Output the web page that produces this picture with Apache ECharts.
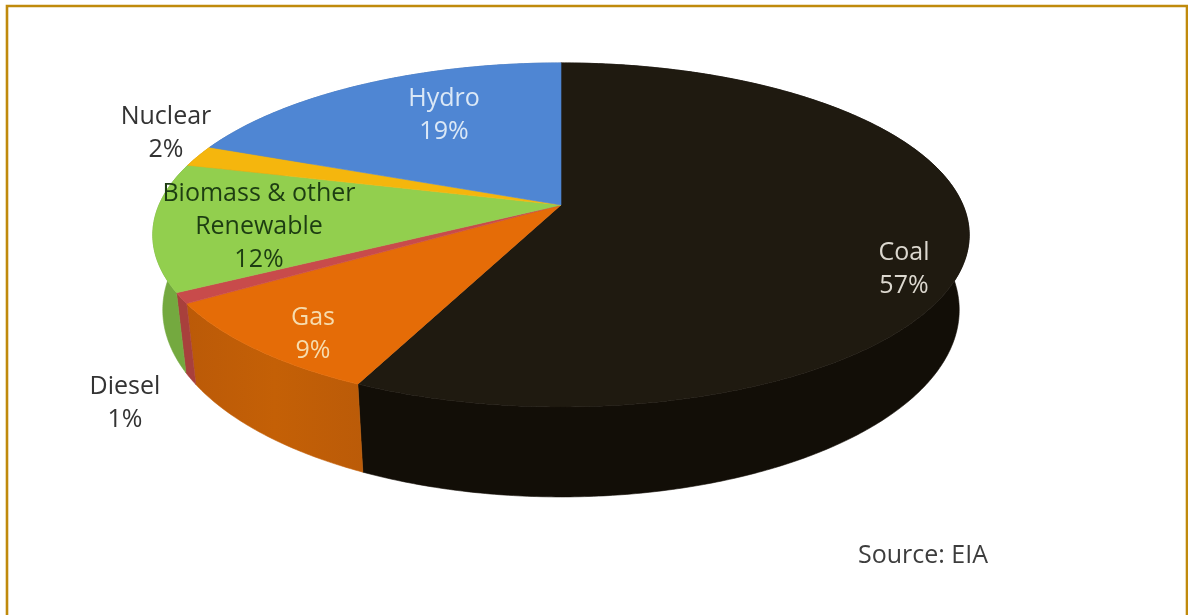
<!DOCTYPE html>
<html>
<head>
<meta charset="utf-8">
<style>html,body{margin:0;padding:0;background:#fff}#c{width:1188px;height:615px}</style>
<script src="https://cdn.jsdelivr.net/npm/echarts@6/dist/echarts.min.js"></script>
</head>
<body>
<div id="c"></div>
<script>
// Data, clockwise from 12 o'clock
const names = ['Coal', 'Gas', 'Diesel', 'Biomass & other\nRenewable', 'Nuclear', 'Hydro'];
const shares = [57, 9, 1, 12, 2, 19];
const sourceNote = 'Source: EIA';

// Styles
const topColors = ['#1f1a10', '#e56c07', '#c84b4b', '#92cf4e', '#f5b60d', '#4f86d3'];
const sideColors = ['#120e07', '#c25f08', '#a8403c', '#74a93f', '#c8940a', '#3f6cab'];
const labelColors = ['#dcd8cf', '#f6dcae', '#333333', '#1d3d12', '#333333', '#dbe8f6'];
const labelFont = '400 25px "Open Sans"';

// Layout: label centres and the perspective of the tilted disc
const labelCentres = [[904, 269], [313, 334], [125, 403], [259, 227], [166, 133], [444, 115]];
const view = {cx: 561, cy: 205, k: 402, a: 166.8, c: -0.174,
              rimCy: 235, baseCy: 310, rimRx: 408, baseRx: 398, yStretch: 187 / 172};

function rim(theta) {
  const u = Math.sin(theta), v = -Math.cos(theta), d = 1 + view.c * v;
  return [view.cx + view.k * u / d, view.cy + view.a * v / d];
}
function base(p) {
  return [view.cx + (p[0] - view.cx) * view.baseRx / view.rimRx,
          view.baseCy + (p[1] - view.rimCy) * view.yStretch];
}
const total = shares.reduce((s, v) => s + v, 0);
function sliceArc(i) {
  let before = 0;
  for (let j = 0; j < i; j++) before += shares[j];
  const a0 = before / total * 2 * Math.PI, a1 = (before + shares[i]) / total * 2 * Math.PI;
  const n = Math.max(4, Math.ceil((a1 - a0) / 0.01)), pts = [];
  for (let k = 0; k <= n; k++) pts.push(rim(a0 + (a1 - a0) * k / n));
  return pts;
}
const seriesData = shares.map((v, i) => [v, i]);

function renderSide(params, api) {
  const i = api.value(1), top = sliceArc(i);
  const pts = top.concat(top.map(base).reverse());
  let fill = sideColors[i];
  if (i === 1) {
    fill = new echarts.graphic.LinearGradient(0, 0, 1, 0, [
      {offset: 0, color: '#bb5a08'}, {offset: 0.5, color: '#c46006'}, {offset: 1, color: '#bb5b08'}]);
  }
  return {type: 'polygon', shape: {points: pts},
          style: {fill: fill, stroke: sideColors[i], lineWidth: 0.6}};
}
function renderTop(params, api) {
  const i = api.value(1);
  const pts = [[view.cx, view.cy]].concat(sliceArc(i));
  return {type: 'polygon', shape: {points: pts},
          style: {fill: topColors[i], stroke: topColors[i], lineWidth: 0.6}};
}
function renderLabel(params, api) {
  const i = api.value(1);
  return {type: 'text', x: labelCentres[i][0], y: labelCentres[i][1],
          style: {text: names[i] + '\n' + api.value(0) + '%', fill: labelColors[i],
                  font: labelFont, lineHeight: 33, align: 'center', verticalAlign: 'middle'}};
}

const chart = echarts.init(document.getElementById('c'), null, {renderer: 'canvas'});
chart.setOption({
  animation: false,
  backgroundColor: '#ffffff',
  graphic: [
    {type: 'rect', z: 0, shape: {x: 7, y: 6, width: 1180, height: 720},
     style: {fill: 'transparent', stroke: '#c08a0c', lineWidth: 2.6}},
    {type: 'text', z: 10, x: 858, y: 556,
     style: {text: sourceNote, fill: '#3d3d3d', font: labelFont, verticalAlign: 'middle'}}
  ],
  series: [
    {type: 'custom', coordinateSystem: 'none', silent: true, z: 2, data: seriesData, renderItem: renderSide},
    {type: 'custom', coordinateSystem: 'none', silent: true, z: 3, data: seriesData, renderItem: renderTop},
    {type: 'custom', coordinateSystem: 'none', silent: true, z: 4, data: seriesData, renderItem: renderLabel}
  ]
});
</script>
</body>
</html>
